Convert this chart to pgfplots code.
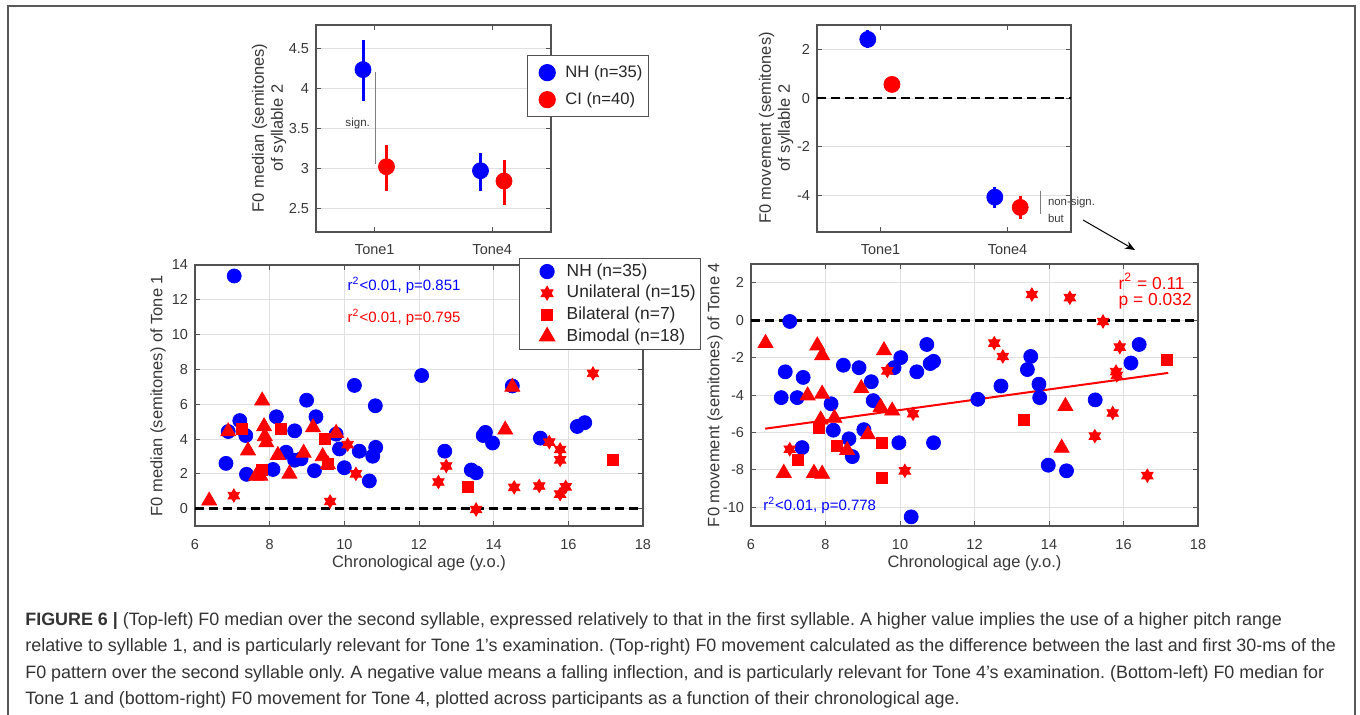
\documentclass[border=0pt]{standalone}
\usepackage{fontspec}
\setmainfont{Liberation Sans}
\usepackage{pgfplots}
\pgfplotsset{compat=1.18}
\usetikzlibrary{arrows.meta}

\pgfdeclareplotmark{hexa}{%
  \pgfpathmoveto{\pgfqpointpolar{90}{1\pgfplotmarksize}}%
  \pgfpathlineto{\pgfqpointpolar{210}{1\pgfplotmarksize}}%
  \pgfpathlineto{\pgfqpointpolar{330}{1\pgfplotmarksize}}%
  \pgfpathclose
  \pgfpathmoveto{\pgfqpointpolar{270}{1\pgfplotmarksize}}%
  \pgfpathlineto{\pgfqpointpolar{30}{1\pgfplotmarksize}}%
  \pgfpathlineto{\pgfqpointpolar{150}{1\pgfplotmarksize}}%
  \pgfpathclose
  \pgfusepathqfillstroke
}

\definecolor{axgray}{gray}{0.32}
\definecolor{txtgray}{gray}{0.22}
\definecolor{gridgray}{gray}{0.88}
\definecolor{capgray}{gray}{0.2}

\newcommand\tickfont{\fontsize{7.25}{8}\selectfont}
\newcommand\labfont{\fontsize{8.25}{10}\selectfont}

\pgfplotsset{
  base/.style={scale only axis, anchor=north west,
    axis line style={axgray, line width=0.55pt},
    every tick/.style={axgray, line width=0.5pt},
    major tick length=2.5pt,
    tick label style={font=\tickfont, text=txtgray},
    grid style={gridgray, line width=0.45pt},
    /pgf/number format/assume math mode=true,
    legend cell align=left},
  legA/.style={legend image code/.code={\path (-8.5pt,-4pt) (6.8pt,4pt); \draw[##1] plot coordinates {(0pt,0pt)};}},
  legB/.style={legend image code/.code={\path (-12.5pt,-3.5pt) (8pt,3.5pt); \draw[##1] plot coordinates {(0pt,0pt)};}},
  zeroline/.style={black, line width=1.4pt, dash pattern=on 4.5pt off 2.5pt, forget plot},
}

\begin{document}
\frenchspacing
\begin{tikzpicture}
\useasboundingbox (0,0) rectangle (680pt,-357pt);
\draw[black!65, line width=1pt] (4.15pt,-362pt) -- (4.15pt,-3pt) -- (677.5pt,-3pt) -- (677.5pt,-362pt);

% ---------- top-left ----------
\begin{axis}[base, at={(158pt,-12.5pt)}, width=117.5pt, height=103.5pt,
  xmin=0.5, xmax=2.5, ymin=2.2, ymax=4.8,
  xtick={1,2}, xticklabels={Tone1,Tone4}, ytick={2.5,3,3.5,4,4.5},
  xticklabel style={yshift=-2.5pt},
  ymajorgrids,
  legend style={at={(0.898,0.855)}, anchor=north west, draw=axgray, line width=0.6pt,
    font=\fontsize{8.3}{10}\selectfont, text=black!85, inner xsep=1pt, inner ysep=2.75pt,
    row sep=2pt, nodes={inner sep=2pt, text depth=0.15em}}]
\addplot[black!50, line width=0.8pt, forget plot] coordinates {(1.005,4.21) (1.005,3.06)};
\addplot[only marks, mark=*, mark size=4pt, color=blue, mark options={fill=blue, draw=blue}, legA,
  error bars/.cd, y dir=both, y explicit, error mark=none, error bar style={line width=1.5pt, blue}]
  coordinates {(0.9,4.24) += (0,0.37) -= (0,0.39) (1.9,2.97) += (0,0.22) -= (0,0.26)};
\addlegendentry{NH (n=35)}
\addplot[only marks, mark=*, mark size=4pt, color=red, mark options={fill=red, draw=red}, legA,
  error bars/.cd, y dir=both, y explicit, error mark=none, error bar style={line width=1.5pt, red}]
  coordinates {(1.1,3.02) += (0,0.27) -= (0,0.30) (2.1,2.84) += (0,0.27) -= (0,0.30)};
\addlegendentry{CI (n=40)}
\node[font=\fontsize{5.8}{6}\selectfont, text=txtgray] at (axis cs:0.855,3.56) {sign.};
\end{axis}
\node[rotate=90, align=center, font=\fontsize{8.25}{9.5}\selectfont, text=txtgray] at (134.5pt,-64pt) {F0 median (semitones)\\of syllable 2};

% ---------- top-right ----------
\begin{axis}[base, at={(408.5pt,-12.5pt)}, width=127pt, height=103.5pt,
  xmin=0.5, xmax=2.5, ymin=-5.5, ymax=3,
  xtick={1,2}, xticklabels={Tone1,Tone4}, ytick={-4,-2,0,2},
  xticklabel style={yshift=-2.5pt},
  ymajorgrids, clip=false]
\addplot[zeroline] coordinates {(0.5,0) (2.5,0)};
\addplot[only marks, mark=*, mark size=4pt, color=blue, mark options={fill=blue, draw=blue},
  error bars/.cd, y dir=both, y explicit, error mark=none, error bar style={line width=1.5pt, blue}]
  coordinates {(0.9,2.41) += (0,0.37) -= (0,0.37) (1.9,-4.07) += (0,0.41) -= (0,0.45)};
\addplot[only marks, mark=*, mark size=4pt, color=red, mark options={fill=red, draw=red},
  error bars/.cd, y dir=both, y explicit, error mark=none, error bar style={line width=1.5pt, red}]
  coordinates {(1.09,0.56) += (0,0.26) -= (0,0.26) (2.1,-4.49) += (0,0.45) -= (0,0.48)};
\addplot[black!50, line width=0.8pt, forget plot] coordinates {(2.26,-3.8) (2.26,-4.75)};
\node[anchor=west, inner sep=0, font=\fontsize{5.7}{6}\selectfont, text=txtgray] at (axis cs:2.316,-4.29) {non-sign.};
\node[anchor=west, inner sep=0, font=\fontsize{5.7}{6}\selectfont, text=txtgray] at (axis cs:2.316,-4.93) {but};
\end{axis}
\node[rotate=90, align=center, font=\fontsize{8.25}{9.5}\selectfont, text=txtgray] at (388pt,-64pt) {F0 movement (semitones)\\of syllable 2};
\draw[-{Stealth[length=5pt,width=4pt]}, line width=0.5pt] (541.5pt,-110pt) -- (567.5pt,-125pt);

% ---------- bottom-left ----------
\begin{axis}[base, at={(97.5pt,-132.5pt)}, width=224pt, height=130.5pt,
  xmin=6, xmax=18, ymin=-1, ymax=14,
  xtick={6,8,...,18}, ytick={0,2,...,14},
  xticklabel style={yshift=-3pt},
  grid=major,
  legend style={at={(0.723,1.027)}, anchor=north west, draw=axgray, line width=0.6pt,
    font=\fontsize{8.7}{10}\selectfont, text=black!85, inner xsep=1pt, inner ysep=1.1pt,
    row sep=0pt, nodes={inner sep=1.5pt, text depth=0.15em}}]
\addplot[zeroline] coordinates {(6,0) (18,0)};
\addplot[only marks, mark=*, mark size=3.5pt, color=blue, mark options={fill=blue, draw=blue}, legB] coordinates {
(7.05,13.37) (6.83,2.60) (6.89,4.43) (7.20,5.06) (7.36,4.20) (7.38,1.97) (8.09,2.25)
(8.18,5.28) (8.44,3.24) (8.67,2.78) (8.67,4.47) (8.84,2.86) (8.99,6.23) (9.20,2.18)
(9.24,5.28) (9.87,3.43) (9.78,4.28) (10.00,2.35) (10.27,7.08) (10.40,3.30) (10.67,1.59)
(10.76,3.01) (10.84,3.52) (10.83,5.91) (12.07,7.65) (12.69,3.30) (13.40,2.22) (13.53,2.06)
(13.78,4.38) (13.72,4.20) (13.97,3.77) (14.50,7.05) (15.25,4.05) (16.24,4.72) (16.44,4.94)};
\addlegendentry{NH (n=35)}
\addplot[only marks, mark=hexa, mark size=3.3pt, color=red, mark options={fill=red, draw=red}, legB] coordinates {
(7.04,0.75) (9.62,0.41) (10.09,3.68) (10.31,2.00) (12.52,1.53) (12.73,2.45) (13.53,-0.05)
(14.55,1.22) (15.22,1.30) (15.49,3.82) (15.78,3.40) (15.78,2.80) (15.78,0.83) (15.93,1.25) (16.66,7.77)};
\addlegendentry{Unilateral (n=15)}
\addplot[only marks, mark=square*, mark size=2.75pt, color=red, mark options={fill=red, draw=red}, legB] coordinates {
(7.26,4.58) (7.80,2.22) (8.29,4.56) (9.47,4.00) (9.55,2.55) (13.31,1.27) (17.20,2.79)};
\addlegendentry{Bilateral (n=7)}
\addplot[only marks, mark=triangle*, mark size=4.3pt, color=red, mark options={fill=red, draw=red}, legB] coordinates {
(6.38,0.45) (6.89,4.43) (7.42,3.33) (7.64,1.88) (7.75,1.88) (7.80,6.20) (7.85,4.72) (7.87,4.15)
(7.91,3.80) (8.22,3.07) (8.53,2.00) (8.91,3.20) (9.16,4.66) (9.42,3.00) (9.56,2.54) (9.78,4.34)
(14.31,4.53) (14.50,6.99)};
\addlegendentry{Bimodal (n=18)}
\node[anchor=west, inner sep=0, font=\fontsize{7.5}{8}\selectfont, text=blue] at (axis cs:10.08,12.84) {r\textsuperscript{2}<0.01, p=0.851};
\node[anchor=west, inner sep=0, font=\fontsize{7.5}{8}\selectfont, text=red] at (axis cs:10.08,10.99) {r\textsuperscript{2}<0.01, p=0.795};
\end{axis}
\node[rotate=90, font=\labfont, text=txtgray] at (79pt,-197.75pt) {F0 median (semitones) of Tone 1};
\node[font=\labfont, text=txtgray] at (209.5pt,-281.5pt) {Chronological age (y.o.)};

% ---------- bottom-right ----------
\begin{axis}[base, at={(375.5pt,-132pt)}, width=223.5pt, height=131pt,
  xmin=6, xmax=18, ymin=-11, ymax=3,
  xtick={6,8,...,18}, ytick={-10,-8,...,2},
  xticklabel style={yshift=-3pt},
  grid=major]
\addplot[zeroline] coordinates {(6,0) (18,0)};
\addplot[only marks, mark=*, mark size=3.5pt, color=blue, mark options={fill=blue, draw=blue}] coordinates {
(7.04,-0.07) (6.92,-2.76) (6.81,-4.14) (7.24,-4.14) (7.40,-3.06) (7.37,-6.81) (8.15,-4.47)
(8.21,-5.88) (8.48,-2.41) (8.63,-6.34) (8.72,-7.29) (8.90,-2.54) (9.03,-5.85) (9.23,-3.29)
(9.28,-4.30) (9.84,-2.54) (10.02,-2.00) (9.97,-6.55) (10.30,-10.51) (10.45,-2.76) (10.72,-1.30)
(10.81,-2.32) (10.90,-2.20) (10.90,-6.55) (12.09,-4.23) (12.71,-3.52) (13.42,-2.64) (13.51,-1.94)
(13.73,-3.42) (13.75,-4.14) (13.98,-7.75) (14.47,-8.05) (15.24,-4.26) (16.20,-2.29) (16.42,-1.30)};
\addplot[only marks, mark=hexa, mark size=3.3pt, color=red, mark options={fill=red, draw=red}] coordinates {
(7.04,-6.90) (9.66,-2.71) (10.35,-5.00) (10.13,-8.05) (12.53,-1.23) (12.76,-1.94) (13.54,1.37)
(14.56,1.20) (15.45,-0.07) (15.23,-6.20) (15.71,-4.96) (15.90,-1.44) (15.80,-2.75) (15.82,-2.95) (16.64,-8.31)};
\addplot[only marks, mark=square*, mark size=2.75pt, color=red, mark options={fill=red, draw=red}] coordinates {
(7.26,-7.46) (7.82,-5.76) (8.30,-6.73) (9.52,-6.58) (9.52,-8.45) (13.32,-5.35) (17.16,-2.11)};
\addplot[only marks, mark=triangle*, mark size=4.3pt, color=red, mark options={fill=red, draw=red}] coordinates {
(6.39,-1.23) (7.78,-1.36) (7.91,-1.88) (7.52,-4.03) (7.91,-3.94) (7.87,-5.32) (8.24,-5.23)
(6.88,-8.17) (7.69,-8.17) (7.91,-8.22) (8.58,-6.95) (8.96,-3.64) (9.14,-6.11) (9.48,-4.65)
(9.57,-1.62) (9.79,-4.84) (14.44,-4.60) (14.34,-6.83)};
\addplot[red, line width=1pt] coordinates {(6.38,-5.80) (17.20,-2.82)};
\node[anchor=west, inner sep=0, font=\fontsize{8.7}{9}\selectfont, text=red] at (axis cs:15.86,2.09) {r\textsuperscript{2} = 0.11};
\node[anchor=west, inner sep=0, font=\fontsize{8.7}{9}\selectfont, text=red] at (axis cs:15.86,1.03) {p = 0.032};
\node[anchor=west, inner sep=0, font=\fontsize{7.5}{8}\selectfont, text=blue] at (axis cs:6.32,-9.88) {r\textsuperscript{2}<0.01, p=0.778};
\end{axis}
\node[rotate=90, font=\labfont, text=txtgray] at (357.5pt,-197.5pt) {F0 movement (semitones) of Tone 4};
\node[font=\labfont, text=txtgray] at (487.25pt,-281.5pt) {Chronological age (y.o.)};

% ---------- caption ----------
\begin{scope}[every node/.style={anchor=base west, inner sep=0pt, font=\fontsize{8.95}{10}\selectfont, text=capgray}]
\node at (12.5pt,-312.5pt) {\textbf{FIGURE 6 |} (Top-left) F0 median over the second syllable, expressed relatively to that in the first syllable. A higher value implies the use of a higher pitch range};
\node at (12.5pt,-325.75pt) {relative to syllable 1, and is particularly relevant for Tone 1’s examination. (Top-right) F0 movement calculated as the difference between the last and first 30-ms of the};
\node at (12.5pt,-339pt) {F0 pattern over the second syllable only. A negative value means a falling inflection, and is particularly relevant for Tone 4’s examination. (Bottom-left) F0 median for};
\node at (12.5pt,-352.25pt) {Tone 1 and (bottom-right) F0 movement for Tone 4, plotted across participants as a function of their chronological age.};
\end{scope}
\end{tikzpicture}
\end{document}
